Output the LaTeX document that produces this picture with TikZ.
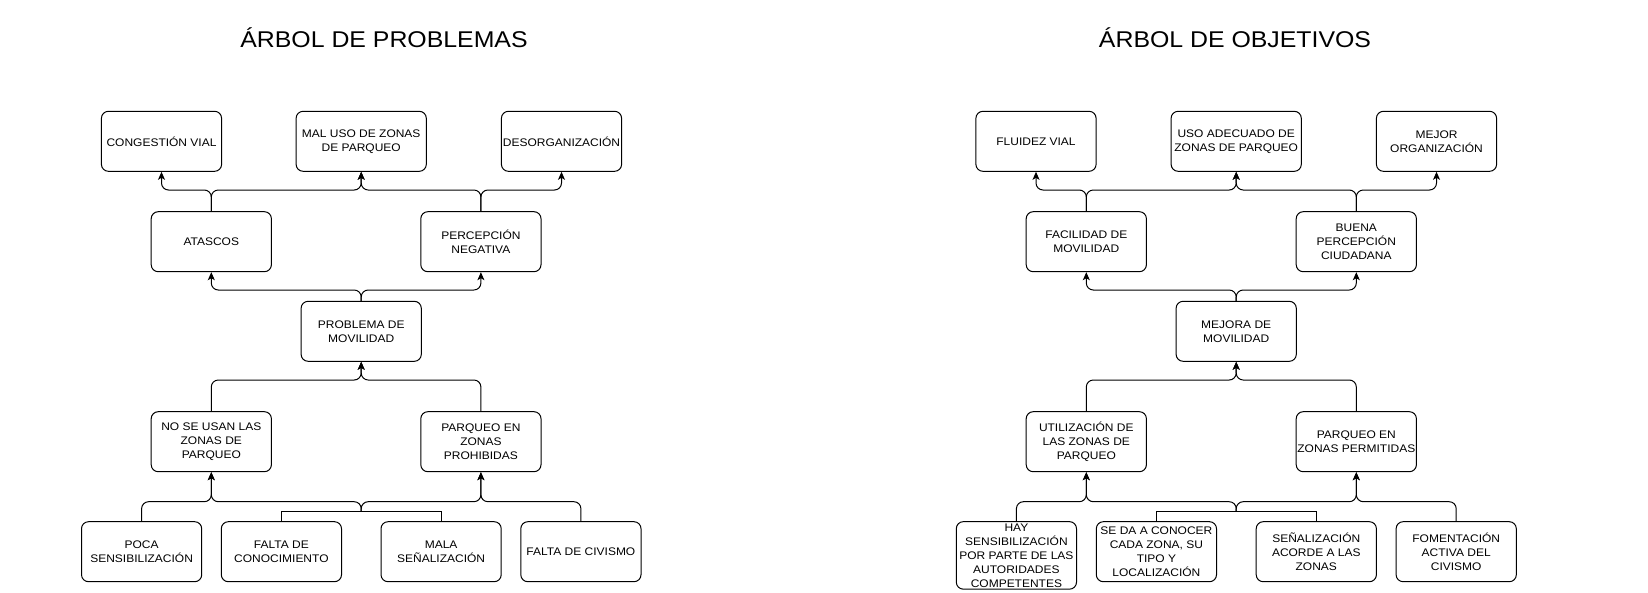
\documentclass[tikz,border=0pt]{standalone}
\usepackage{fontspec}
\setmainfont{Liberation Sans}[FakeStretch=1.09]
\usetikzlibrary{arrows.meta}
\begin{document}
\begin{tikzpicture}[x=1pt,y=-1pt,
  box/.style={draw, line width=1pt, rounded corners=7pt, minimum width=120.2pt,
    minimum height=60pt, inner sep=0pt, align=center,
    font=\fontsize{11}{14}\selectfont},
  wide/.style={minimum width=130.2pt},
  heading/.style={font=\fontsize{22.8}{27}\selectfont, anchor=base},
  flow/.style={draw, line width=1pt, rounded corners=7pt,
    -{Stealth[length=8pt,width=7pt,inset=2pt]}},
  feed/.style={draw, line width=1pt},
]
\useasboundingbox (0,0) rectangle (1648,592);

% bus levels of the connectors
\coordinate (b1) at (0,190);
\coordinate (b2) at (0,290);
\coordinate (b3) at (0,380);
\coordinate (b4) at (0,501.7);

% ---------------- problem tree ----------------
\node[heading] (tp) at (384,47) {ÁRBOL DE PROBLEMAS};

\node[box] (cong) at (161.5,141.3) {CONGESTIÓN VIAL};
\node[box,wide] (maluso) at (361.2,141.3) {MAL USO DE ZONAS\\DE PARQUEO};
\node[box] (desorg) at (561.5,141.3) {DESORGANIZACIÓN};

\node[box] (atascos) at (211.3,241.7) {ATASCOS};
\node[box] (percep) at (480.9,241.7) {PERCEPCIÓN\\NEGATIVA};

\node[box] (problema) at (361.2,331.3) {PROBLEMA DE\\MOVILIDAD};

\node[box] (nousan) at (211.3,441.7) {NO SE USAN LAS\\ZONAS DE\\PARQUEO};
\node[box] (prohib) at (480.9,441.7) {PARQUEO EN\\ZONAS\\PROHIBIDAS};

\node[box] (poca) at (141.6,551.7) {POCA\\SENSIBILIZACIÓN};
\node[box] (conoc) at (281.4,551.7) {FALTA DE\\CONOCIMIENTO};
\node[box] (mala) at (441.1,551.7) {MALA\\SEÑALIZACIÓN};
\node[box] (civismo) at (580.9,551.7) {FALTA DE CIVISMO};

\draw[flow] (atascos.north) -- (atascos.north |- b1) -| (cong.south);
\draw[flow] (atascos.north) -- (atascos.north |- b1) -| (maluso.south);
\draw[flow] (percep.north) -- (percep.north |- b1) -| (maluso.south);
\draw[flow] (percep.north) -- (percep.north |- b1) -| (desorg.south);

\draw[flow] (problema.north) -- (problema.north |- b2) -| (atascos.south);
\draw[flow] (problema.north) -- (problema.north |- b2) -| (percep.south);

\draw[flow] (nousan.north) -- (nousan.north |- b3) -| (problema.south);
\draw[flow] (prohib.north) -- (prohib.north |- b3) -| (problema.south);

\coordinate (jl) at (361.2,511);
\draw[flow] (poca.north) -- (poca.north |- b4) -| (nousan.south);
\draw[flow] (civismo.north) -- (civismo.north |- b4) -| (prohib.south);
\draw[feed] (conoc.north) |- (jl);
\draw[feed] (mala.north) |- (jl);
\draw[flow] (jl) -- (jl |- b4) -| (nousan.south);
\draw[flow] (jl) -- (jl |- b4) -| (prohib.south);

% ---------------- objective tree ----------------
\node[heading] (to) at (1235,47) {ÁRBOL DE OBJETIVOS};

\node[box] (fluidez) at (1036.0,141.3) {FLUIDEZ VIAL};
\node[box,wide] (usoad) at (1236.2,141.3) {USO ADECUADO DE\\ZONAS DE PARQUEO};
\node[box] (mejororg) at (1436.5,141.3) {MEJOR\\ORGANIZACIÓN};

\node[box] (facil) at (1086.3,241.7) {FACILIDAD DE\\MOVILIDAD};
\node[box] (buena) at (1356.3,241.7) {BUENA\\PERCEPCIÓN\\CIUDADANA};

\node[box] (mejora) at (1236.2,331.3) {MEJORA DE\\MOVILIDAD};

\node[box] (utiliz) at (1086.3,441.7) {UTILIZACIÓN DE\\LAS ZONAS DE\\PARQUEO};
\node[box] (permit) at (1356.3,441.7) {PARQUEO EN\\ZONAS PERMITIDAS};

\node[box,minimum height=67.5pt] (hay) at (1016.4,555.4)
  {HAY\\SENSIBILIZACIÓN\\POR PARTE DE LAS\\AUTORIDADES\\COMPETENTES};
\node[box] (seda) at (1156.4,551.7) {SE DA A CONOCER\\CADA ZONA, SU\\TIPO Y\\LOCALIZACIÓN};
\node[box] (senal) at (1316.3,551.7) {SEÑALIZACIÓN\\ACORDE A LAS\\ZONAS};
\node[box] (foment) at (1456.2,551.7) {FOMENTACIÓN\\ACTIVA DEL\\CIVISMO};

\draw[flow] (facil.north) -- (facil.north |- b1) -| (fluidez.south);
\draw[flow] (facil.north) -- (facil.north |- b1) -| (usoad.south);
\draw[flow] (buena.north) -- (buena.north |- b1) -| (usoad.south);
\draw[flow] (buena.north) -- (buena.north |- b1) -| (mejororg.south);

\draw[flow] (mejora.north) -- (mejora.north |- b2) -| (facil.south);
\draw[flow] (mejora.north) -- (mejora.north |- b2) -| (buena.south);

\draw[flow] (utiliz.north) -- (utiliz.north |- b3) -| (mejora.south);
\draw[flow] (permit.north) -- (permit.north |- b3) -| (mejora.south);

\coordinate (jr) at (1236.2,511);
\draw[flow] (hay.north) -- (hay.north |- b4) -| (utiliz.south);
\draw[flow] (foment.north) -- (foment.north |- b4) -| (permit.south);
\draw[feed] (seda.north) |- (jr);
\draw[feed] (senal.north) |- (jr);
\draw[flow] (jr) -- (jr |- b4) -| (utiliz.south);
\draw[flow] (jr) -- (jr |- b4) -| (permit.south);
\end{tikzpicture}
\end{document}
